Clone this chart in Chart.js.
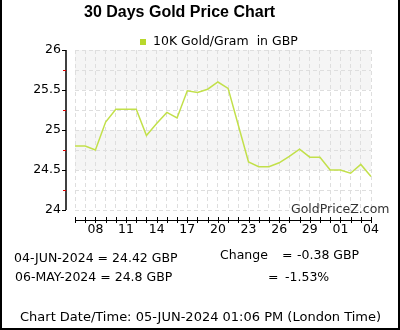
<!DOCTYPE html>
<html>
<head>
<meta charset="utf-8">
<script src="https://cdn.jsdelivr.net/npm/chart.js@4/dist/chart.umd.min.js"></script>
<style>
  html, body { margin: 0; padding: 0; background: #fff; }
  #wrap { width: 400px; height: 330px; }
</style>
</head>
<body>
<div id="wrap"><canvas id="goldChart" width="400" height="330"></canvas></div>
<script>
var DAYS = ['06','07','08','09','10','11','12','13','14','15','16','17','18','19','20',
            '21','22','23','24','25','26','27','28','29','30','31','01','02','03','04'];
var PRICES = [24.80, 24.80, 24.75, 25.10, 25.26, 25.26, 25.26, 24.93, 25.08, 25.22,
              25.15, 25.49, 25.47, 25.51, 25.60, 25.52, 25.06, 24.60, 24.54, 24.54,
              24.59, 24.67, 24.76, 24.66, 24.66, 24.50, 24.50, 24.46, 24.57, 24.42];
var Y_MIN = 24, Y_MAX = 26;
var BANDS = [[25.5, 26], [24.5, 25]];
var MINOR_TICKS = [25.75, 25.25, 24.75, 24.25];
var MAJOR_TICKS = [26, 25.5, 25, 24.5, 24];

var FONT = '"DejaVu Sans", sans-serif';

var decor = {
  id: 'decor',
  beforeDraw: function (chart) {
    var ctx = chart.ctx, x = chart.scales.x, y = chart.scales.y;
    ctx.save();
    ctx.fillStyle = '#fff';
    ctx.fillRect(0, 0, chart.width, chart.height);
    ctx.fillStyle = '#f5f5f5';
    BANDS.forEach(function (b) {
      var top = y.getPixelForValue(b[1]), bot = y.getPixelForValue(b[0]);
      ctx.fillRect(x.left, top, x.right - x.left, bot - top);
    });
    ctx.restore();
  },
  afterDraw: function (chart) {
    var ctx = chart.ctx, x = chart.scales.x, y = chart.scales.y;
    ctx.save();
    // y axis
    ctx.strokeStyle = '#000';
    ctx.lineWidth = 1.5;
    ctx.beginPath();
    ctx.moveTo(66, y.getPixelForValue(Y_MAX));
    ctx.lineTo(66, y.getPixelForValue(Y_MIN));
    ctx.stroke();
    ctx.lineWidth = 1;
    MAJOR_TICKS.forEach(function (v) {
      var p = Math.round(y.getPixelForValue(v)) + 0.5;
      ctx.beginPath(); ctx.moveTo(62, p); ctx.lineTo(66, p); ctx.stroke();
    });
    ctx.strokeStyle = '#e00000';
    MINOR_TICKS.forEach(function (v) {
      var p = Math.round(y.getPixelForValue(v)) + 0.5;
      ctx.beginPath(); ctx.moveTo(63, p); ctx.lineTo(66, p); ctx.stroke();
    });
    // x axis
    ctx.strokeStyle = '#000';
    ctx.beginPath();
    ctx.moveTo(x.left, 220.5); ctx.lineTo(x.right, 220.5); ctx.stroke();
    DAYS.forEach(function (d, i) {
      var p = Math.round(x.getPixelForValue(i)) + 0.5;
      ctx.beginPath(); ctx.moveTo(p, 217); ctx.lineTo(p, 223); ctx.stroke();
    });

    // frame
    ctx.fillStyle = '#000';
    ctx.fillRect(0, 0, 2, 330);
    ctx.fillRect(398, 0, 2, 330);
    ctx.fillRect(0, 328, 400, 2);

    // texts
    ctx.textBaseline = 'middle';
    ctx.textAlign = 'left';
    ctx.fillStyle = '#000';
    ctx.font = 'bold 16px "Liberation Sans", sans-serif';
    ctx.fillText('30 Days Gold Price Chart', 84, 13);

    ctx.fillStyle = '#b8d82c';
    ctx.fillRect(140, 39, 6, 6);
    ctx.fillStyle = '#000';
    ctx.font = '12.5px ' + FONT;
    ctx.fillText('10K Gold/Gram  in GBP', 153, 42);

    ctx.fillStyle = '#333';
    ctx.font = '12.5px ' + FONT;
    ctx.fillText('GoldPriceZ.com', 291, 210);

    ctx.fillStyle = '#000';
    ctx.font = '12.5px ' + FONT;
    ctx.fillText('04-JUN-2024 = 24.42 GBP', 14, 259);
    ctx.fillText('06-MAY-2024 = 24.8 GBP', 15, 278);
    ctx.fillText('Change', 220, 256);
    ctx.fillText('=', 282, 256);
    ctx.fillText('-0.38 GBP', 297, 256);
    ctx.fillText('=', 268, 278);
    ctx.fillText('-1.53%', 285, 278);
    ctx.font = '13px ' + FONT;
    ctx.fillText('Chart Date/Time: 05-JUN-2024 01:06 PM (London Time)', 20, 318);
    ctx.restore();
  }
};

var CHART = new Chart(document.getElementById('goldChart'), {
  type: 'line',
  data: {
    labels: DAYS,
    datasets: [{
      label: '10K Gold/Gram  in GBP',
      data: PRICES,
      borderColor: '#c2e04a',
      borderWidth: 1.5,
      pointRadius: 0,
      tension: 0,
      fill: false
    }]
  },
  options: {
    responsive: false,
    animation: false,
    layout: { padding: { top: 50, right: 29, left: 0, bottom: 0 } },
    plugins: { legend: { display: false }, title: { display: false }, tooltip: { enabled: false } },
    scales: {
      x: {
        grid: { color: '#dedede', drawTicks: false },
        border: { display: false, dash: [4, 3] },
        afterFit: function (s) { s.height = 120; },
        ticks: {
          autoSkip: false, maxRotation: 0, padding: 12, color: '#000',
          font: { family: FONT, size: 12.5 },
          callback: function (v, i) { return i % 3 === 2 ? DAYS[i] : ''; }
        }
      },
      y: {
        min: Y_MIN, max: Y_MAX,
        grid: { color: '#dedede', drawTicks: false },
        border: { display: false, dash: [4, 3] },
        afterFit: function (s) { s.width = 75; },
        ticks: {
          stepSize: 0.25, padding: 14, color: '#000',
          font: { family: FONT, size: 12.5 },
          callback: function (v) { return (v * 2) % 1 === 0 ? String(v) : ''; }
        }
      }
    }
  },
  plugins: [decor]
});
</script>
</body>
</html>
